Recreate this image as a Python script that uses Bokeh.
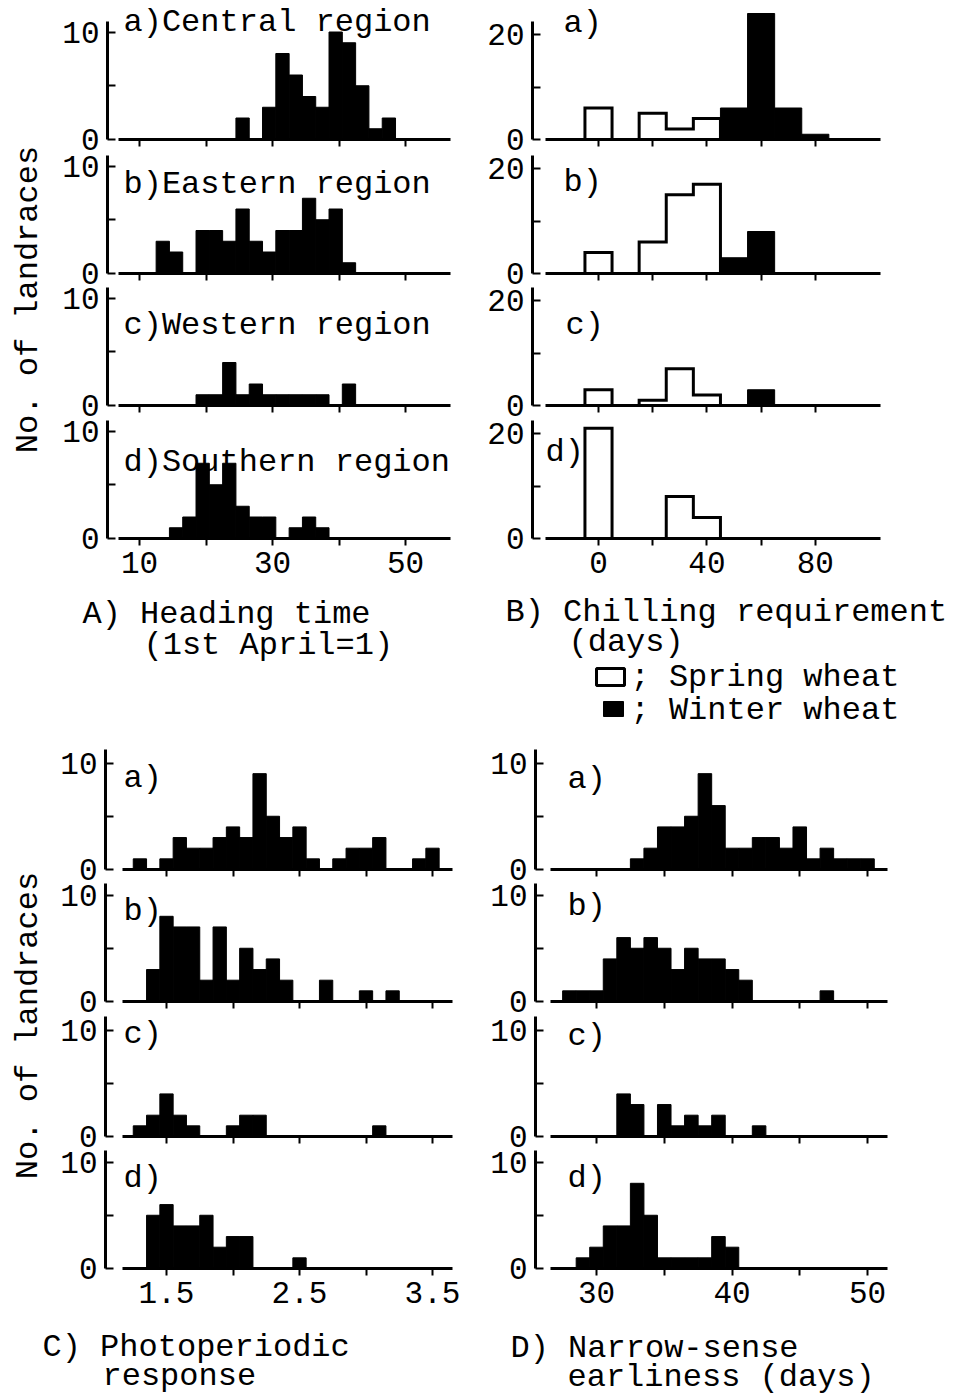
import math
from bokeh.plotting import figure
from bokeh.layouts import column, row
from bokeh.models import FixedTicker, Range1d
from bokeh.core.properties import value
from bokeh.embed import file_html
from bokeh.resources import INLINE

FONT = "Liberation Mono"

# ---------------- data (counts of landraces per bin) ----------------
heading_centers = [13.5, 15.5, 17.5, 19.5, 21.5, 23.5, 25.5, 27.5, 29.5, 31.5,
                   33.5, 35.5, 37.5, 39.5, 41.5, 43.5, 45.5, 47.5]
heading_width = 2
heading_central = [0, 0, 0, 0, 0, 0, 2, 0, 3, 8, 6, 4, 3, 10, 9, 5, 1, 2]
heading_eastern = [3, 2, 0, 4, 4, 3, 6, 3, 2, 4, 4, 7, 5, 6, 1, 0, 0, 0]
heading_western = [0, 0, 0, 1, 1, 4, 1, 2, 1, 1, 1, 1, 1, 0, 2, 0, 0, 0]
heading_southern = [0, 1, 2, 7, 5, 7, 3, 2, 2, 0, 1, 2, 1, 0, 0, 0, 0, 0]

chill_centers = [0, 10, 20, 30, 40, 50, 60, 70, 80, 90]
chill_width = 10
chill_spring_a = [6, 0, 5, 2, 4, 0, 0, 0, 0, 0]
chill_winter_a = [0, 0, 0, 0, 0, 6, 24, 6, 1, 0]
chill_spring_b = [4, 0, 6, 15, 17, 0, 0, 0, 0, 0]
chill_winter_b = [0, 0, 0, 0, 0, 3, 8, 0, 0, 0]
chill_spring_c = [3, 0, 1, 7, 2, 0, 0, 0, 0, 0]
chill_winter_c = [0, 0, 0, 0, 0, 0, 3, 0, 0, 0]
chill_spring_d = [21, 0, 0, 8, 4, 0, 0, 0, 0, 0]
chill_winter_d = [0, 0, 0, 0, 0, 0, 0, 0, 0, 0]

photo_centers = [1.3, 1.4, 1.5, 1.6, 1.7, 1.8, 1.9, 2.0, 2.1, 2.2, 2.3, 2.4,
                 2.5, 2.6, 2.7, 2.8, 2.9, 3.0, 3.1, 3.2, 3.3, 3.4, 3.5]
photo_width = 0.1
photo_a = [1, 0, 1, 3, 2, 2, 3, 4, 3, 9, 5, 3, 4, 1, 0, 1, 2, 2, 3, 0, 0, 1, 2]
photo_b = [0, 3, 8, 7, 7, 2, 7, 2, 5, 3, 4, 2, 0, 0, 2, 0, 0, 1, 0, 1, 0, 0, 0]
photo_c = [1, 2, 4, 2, 1, 0, 0, 1, 2, 2, 0, 0, 0, 0, 0, 0, 0, 0, 1, 0, 0, 0, 0]
photo_d = [0, 5, 6, 4, 4, 5, 2, 3, 3, 0, 0, 0, 1, 0, 0, 0, 0, 0, 0, 0, 0, 0, 0]

early_centers = [28, 29, 30, 31, 32, 33, 34, 35, 36, 37, 38, 39, 40, 41, 42,
                 43, 44, 45, 46, 47, 48, 49, 50]
early_width = 1
early_a = [0, 0, 0, 0, 0, 1, 2, 4, 4, 5, 9, 6, 2, 2, 3, 3, 2, 4, 1, 2, 1, 1, 1]
early_b = [1, 1, 1, 4, 6, 5, 6, 5, 3, 5, 4, 4, 3, 2, 0, 0, 0, 0, 0, 1, 0, 0, 0]
early_c = [0, 0, 0, 0, 4, 3, 0, 3, 1, 2, 1, 2, 0, 0, 1, 0, 0, 0, 0, 0, 0, 0, 0]
early_d = [0, 1, 2, 4, 4, 8, 5, 1, 1, 1, 1, 3, 2, 0, 0, 0, 0, 0, 0, 0, 0, 0, 0]

region_titles = ["a)Central region", "b)Eastern region", "c)Western region", "d)Southern region"]
short_titles = ["a)", "b)", "c)", "d)"]

# ---------------- geometry (pixels, from the page's top-left corner) ----------------
colA = dict(left=50, right=484, frame=(107, 452), axis=(118, 450), p0=139, v0=10, ppu=6.65,
            ypp=10.75, ybound=11, xmajor=[10, 30, 50], xminor=[20, 40], ymajor=[0, 10], yminor=[5])
colB = dict(left=484, right=956, frame=(532, 888), axis=(545, 880), p0=598, v0=0, ppu=2.71,
            ypp=5.25, ybound=22.5, xmajor=[0, 40, 80], xminor=[20, 60], ymajor=[0, 20], yminor=[10])
colC = dict(left=50, right=484, frame=(105, 452), axis=(122, 452), p0=166, v0=1.5, ppu=133.0,
            ypp=10.65, ybound=11.3, xmajor=[1.5, 2.5, 3.5], xminor=[2.0, 3.0], ymajor=[0, 10], yminor=[5])
colD = dict(left=484, right=956, frame=(535, 888), axis=(550, 887), p0=596, v0=30, ppu=13.55,
            ypp=10.65, ybound=11.3, xmajor=[30, 40, 50], xminor=[35, 45], ymajor=[0, 10], yminor=[5])

rowsTop = [(0, 139, 153), (153, 273, 287), (287, 405, 419), (419, 538, 590)]
rowsBot = [(740, 869, 883), (883, 1001, 1015), (1015, 1136, 1150), (1150, 1268, 1320)]
EXT = 22  # each stacked panel's canvas overlaps its neighbour by this much (transparent)


def panel(col, r, idx):
    top, base, bottom = r
    show_x = idx == 3
    ext_top = EXT if idx > 0 else 0
    ext_bot = EXT if idx < 3 else 0

    def xv(px):
        return col["v0"] + (px - col["p0"]) / col["ppu"]

    def yv(py):
        return (base - py) / col["ypp"]

    p = figure(width=col["right"] - col["left"], height=bottom - top + ext_top + ext_bot,
               x_range=Range1d(xv(col["frame"][0]), xv(col["frame"][1])),
               y_range=Range1d(0, yv(top)),
               toolbar_location=None, output_backend="svg",
               min_border_left=col["frame"][0] - col["left"],
               min_border_right=col["right"] - col["frame"][1],
               min_border_top=ext_top, min_border_bottom=bottom - base + ext_bot)
    if idx > 0:
        p.styles = {"margin-top": f"-{2 * EXT}px"}
    p.grid.visible = False
    p.outline_line_color = None
    p.background_fill_color = None
    p.border_fill_color = None

    xa = p.xaxis[0]
    if show_x:
        xa.ticker = FixedTicker(ticks=col["xmajor"], minor_ticks=col["xminor"])
    else:
        xa.ticker = FixedTicker(ticks=[], minor_ticks=col["xmajor"] + col["xminor"])
    xa.bounds = (xv(col["axis"][0]), xv(col["axis"][1]))
    xa.axis_line_width = 3
    xa.axis_line_color = "black"
    xa.major_tick_line_width = 2
    xa.minor_tick_line_width = 2
    xa.major_tick_line_color = "black"
    xa.minor_tick_line_color = "black"
    xa.major_tick_in = 0
    xa.major_tick_out = 7
    xa.minor_tick_in = 0
    xa.minor_tick_out = 7
    xa.major_label_standoff = 6 if show_x else 0
    xa.major_label_text_font = FONT
    xa.major_label_text_font_size = "31px"
    xa.major_label_text_color = "black"

    ya = p.yaxis[0]
    ya.ticker = FixedTicker(ticks=col["ymajor"], minor_ticks=col["yminor"])
    ya.bounds = (0, col["ybound"])
    ya.axis_line_width = 3
    ya.axis_line_color = "black"
    ya.major_tick_line_width = 2
    ya.minor_tick_line_width = 2
    ya.major_tick_line_color = "black"
    ya.minor_tick_line_color = "black"
    ya.major_tick_in = 8
    ya.major_tick_out = 0
    ya.minor_tick_in = 8
    ya.minor_tick_out = 0
    ya.major_label_standoff = 8
    ya.major_label_text_font = FONT
    ya.major_label_text_font_size = "31px"
    ya.major_label_text_color = "black"
    return p, xv, yv


def bars(p, centers, counts, width):
    keep = [(c, n) for c, n in zip(centers, counts) if n > 0]
    if not keep:
        return
    p.quad(left=[c - width / 2 for c, n in keep], right=[c + width / 2 for c, n in keep],
           bottom=0, top=[n for c, n in keep],
           fill_color="black", line_color="black", line_width=1)


def outline(p, centers, counts, width):
    xs = [centers[0] - width / 2]
    ys = [0]
    for c, n in zip(centers, counts):
        xs += [c - width / 2, c + width / 2]
        ys += [n, n]
    xs.append(centers[-1] + width / 2)
    ys.append(0)
    p.line(xs, ys, line_color="black", line_width=3, line_join="miter")


def title(p, xv, yv, px, py, txt):
    p.text(x=[xv(px)], y=[yv(py)], text=[txt], text_font=value(FONT), text_font_size="32px",
           text_baseline="alphabetic", text_align="left", text_color="black")


# ---------------- panel A: heading time ----------------
A_series = [heading_central, heading_eastern, heading_western, heading_southern]
A_title_y = [22, 184, 325, 462]
figsA = []
for i, r in enumerate(rowsTop):
    p, xv, yv = panel(colA, r, i)
    bars(p, heading_centers, A_series[i], heading_width)
    title(p, xv, yv, 123, A_title_y[i], region_titles[i])
    figsA.append(p)

# ---------------- panel B: chilling requirement ----------------
B_spring = [chill_spring_a, chill_spring_b, chill_spring_c, chill_spring_d]
B_winter = [chill_winter_a, chill_winter_b, chill_winter_c, chill_winter_d]
B_title_xy = [(563, 23), (563, 182), (565, 325), (545, 452)]
figsB = []
for i, r in enumerate(rowsTop):
    p, xv, yv = panel(colB, r, i)
    bars(p, chill_centers, B_winter[i], chill_width)
    outline(p, chill_centers, B_spring[i], chill_width)
    title(p, xv, yv, B_title_xy[i][0], B_title_xy[i][1], short_titles[i])
    figsB.append(p)

# ---------------- panel C: photoperiodic response ----------------
C_series = [photo_a, photo_b, photo_c, photo_d]
C_title_y = [778, 911, 1034, 1178]
figsC = []
for i, r in enumerate(rowsBot):
    p, xv, yv = panel(colC, r, i)
    bars(p, photo_centers, C_series[i], photo_width)
    title(p, xv, yv, 123, C_title_y[i], short_titles[i])
    figsC.append(p)

# ---------------- panel D: narrow-sense earliness ----------------
D_series = [early_a, early_b, early_c, early_d]
D_title_y = [779, 906, 1036, 1178]
figsD = []
for i, r in enumerate(rowsBot):
    p, xv, yv = panel(colD, r, i)
    bars(p, early_centers, D_series[i], early_width)
    title(p, xv, yv, 567, D_title_y[i], short_titles[i])
    figsD.append(p)


# ---------------- text-only figures ----------------
def blank(x0, x1, y0, y1, flip=True):
    p = figure(width=x1 - x0, height=y1 - y0,
               x_range=Range1d(x0, x1),
               y_range=Range1d(y1, y0) if flip else Range1d(-y1, -y0),
               toolbar_location=None, output_backend="svg",
               x_axis_location=None, y_axis_location=None, min_border=0)
    p.grid.visible = False
    p.outline_line_color = None
    p.background_fill_color = "white"
    p.border_fill_color = "white"
    return p


def txt(p, x, y, s, angle=0.0, align="left", baseline="alphabetic"):
    p.text(x=[x], y=[y], text=[s], angle=angle, text_font=value(FONT), text_font_size="32px",
           text_baseline=baseline, text_align=align, text_color="black")


labTop = blank(0, 50, 0, 590, flip=False)
txt(labTop, 28, -299, "No. of landraces", angle=math.pi / 2, align="center", baseline="middle")
labBot = blank(0, 50, 740, 1320, flip=False)
txt(labBot, 28, -1025, "No. of landraces", angle=math.pi / 2, align="center", baseline="middle")

capTop = blank(0, 956, 590, 740)
txt(capTop, 82, 614, "A) Heading time")
txt(capTop, 143, 645, "(1st April=1)")
txt(capTop, 505, 612, "B) Chilling requirement")
txt(capTop, 568, 642, "(days)")
capTop.quad(left=[596], right=[624], top=[668], bottom=[685],
            fill_color="white", line_color="black", line_width=3)
capTop.quad(left=[603], right=[623], top=[701], bottom=[716],
            fill_color="black", line_color="black", line_width=1)
txt(capTop, 630, 677, "; Spring wheat")
txt(capTop, 630, 710, "; Winter wheat")

capBot = blank(0, 956, 1320, 1398)
txt(capBot, 42, 1347, "C) Photoperiodic")
txt(capBot, 102, 1376, "response")
txt(capBot, 510, 1348, "D) Narrow-sense")
txt(capBot, 567, 1377, "earliness (days)")

layout = column(
    row(labTop, column(*figsA), column(*figsB)),
    capTop,
    row(labBot, column(*figsC), column(*figsD)),
    capBot,
)

open("out.html", "w").write(file_html(layout, INLINE))
